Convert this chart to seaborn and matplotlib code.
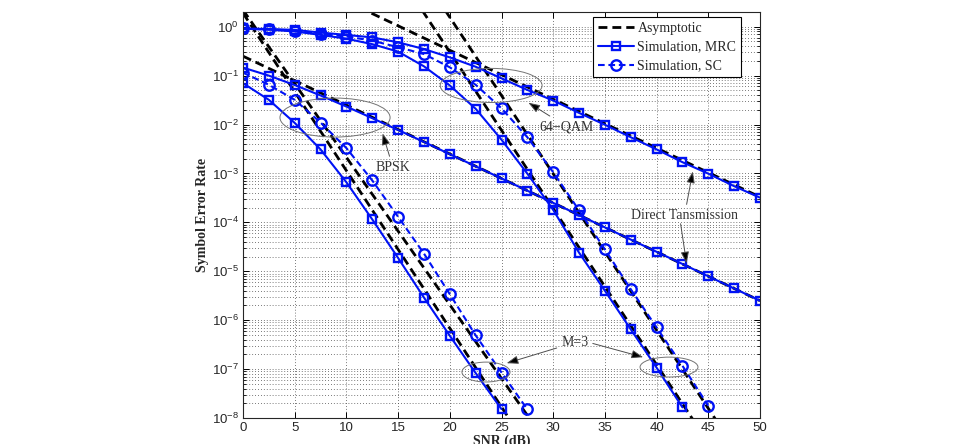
import numpy as np
import pandas as pd
import seaborn as sns
import matplotlib.pyplot as plt
from matplotlib.lines import Line2D
from matplotlib.patches import Ellipse
from matplotlib.ticker import LogLocator, NullFormatter, FixedLocator

# SNR grid of the simulated points (dB)
snr = [0, 2.5, 5, 7.5, 10, 12.5, 15, 17.5, 20, 22.5, 25, 27.5, 30,
       32.5, 35, 37.5, 40, 42.5, 45, 47.5, 50]

# direct transmission (no relays)
bpsk_direct = [0.146, 0.100, 0.0642, 0.0393, 0.0233, 0.0135, 0.00774, 0.00441,
               0.00248, 0.0014, 7.9e-4, 4.44e-4, 2.5e-4, 1.41e-4, 7.9e-5,
               4.45e-5, 2.5e-5, 1.41e-5, 7.9e-6, 4.45e-6, 2.5e-6]
qam_direct = [0.92, 0.90, 0.86, 0.76, 0.68, 0.605, 0.48, 0.35, 0.236, 0.152,
              0.088, 0.051, 0.031, 0.0173, 0.0099, 0.0055, 0.0031, 0.0017,
              0.00099, 0.00055, 0.00032]

# M=3 relays, MRC and SC
bpsk_mrc = [0.070, 0.032, 0.0108, 0.0031, 6.6e-4, 1.15e-4, 1.87e-5, 2.9e-6,
            4.8e-7, 8.3e-8, 1.52e-8]
bpsk_sc = [0.115, 0.065, 0.032, 0.011, 0.0033, 7.2e-4, 1.3e-4, 2.3e-5,
           3.4e-6, 4.9e-7, 8.5e-8, 1.5e-8]
qam_mrc = [0.91, 0.87, 0.80, 0.68, 0.57, 0.44, 0.31, 0.155, 0.063, 0.021,
           0.0049, 9.9e-4, 1.8e-4, 2.4e-5, 4.0e-6, 6.5e-7, 1.07e-7, 1.65e-8]
qam_sc = [0.92, 0.88, 0.83, 0.71, 0.63, 0.52, 0.38, 0.277, 0.148, 0.065,
          0.0215, 0.0055, 0.00106, 1.76e-4, 2.8e-5, 4.3e-6, 7.1e-7, 1.17e-7,
          1.78e-8]

# asymptotic curves (straight lines on the log axis, two end points each)
asym_snr = {'bpsk_direct': [0, 50], 'qam_direct': [10, 50],
            'bpsk_mrc': [0, 26], 'bpsk_sc': [0, 30],
            'qam_mrc': [15, 45], 'qam_sc': [15, 47]}
asym_ser = {'bpsk_direct': [0.25, 2.5e-6], 'qam_direct': [3.3, 3.3e-4],
            'bpsk_mrc': [1.9, 8e-9], 'bpsk_sc': [2.2, 2.0e-9],
            'qam_mrc': [12, 3.1e-9], 'qam_sc': [62, 3.6e-9]}

blue = '#0012f5'
serif = ['Liberation Serif', 'DejaVu Serif']

sns.set_style('ticks')
plt.rcParams['font.family'] = ['Liberation Sans', 'DejaVu Sans']

fig = plt.figure(figsize=(9.68, 4.44), dpi=100)
ax = fig.add_axes([243 / 968, 26 / 444, 517 / 968, 406 / 444])

dash = (0, (3.2, 1.8))
for key in asym_snr:
    sns.lineplot(x=asym_snr[key], y=asym_ser[key], ax=ax, color='k',
                 lw=2.0, linestyle=dash)

solid_kw = dict(color=blue, lw=1.5, marker='s', markersize=6.2,
                markerfacecolor='none', markeredgecolor=blue, markeredgewidth=1.7)
dash_kw = dict(color=blue, lw=1.5, linestyle=dash, marker='o', markersize=7.5,
               markerfacecolor='none', markeredgecolor=blue, markeredgewidth=1.7)

sns.lineplot(x=snr, y=bpsk_direct, ax=ax, **solid_kw)
sns.lineplot(x=snr, y=qam_direct, ax=ax, **solid_kw)
sns.lineplot(x=snr[:len(bpsk_mrc)], y=bpsk_mrc, ax=ax, **solid_kw)
sns.lineplot(x=snr[:len(qam_mrc)], y=qam_mrc, ax=ax, **solid_kw)
sns.lineplot(x=snr[:len(bpsk_sc)], y=bpsk_sc, ax=ax, **dash_kw)
sns.lineplot(x=snr[:len(qam_sc)], y=qam_sc, ax=ax, **dash_kw)

ax.set_yscale('log')
ax.set_xlim(0, 50)
ax.set_ylim(1e-8, 2)
ax.set_xticks(np.arange(0, 51, 5))
ax.yaxis.set_major_locator(FixedLocator([10.0 ** k for k in range(-8, 1)]))
ax.yaxis.set_minor_locator(LogLocator(base=10, subs=np.arange(2, 10), numticks=20))
ax.yaxis.set_minor_formatter(NullFormatter())
ax.tick_params(which='both', direction='in', top=True, right=True,
               labelsize=9.5, pad=3, color='k')
ax.tick_params(which='major', length=4, width=0.7)
ax.tick_params(which='minor', length=2, width=0.6)
grid_ls = (0, (1, 2.5))
ax.grid(True, which='major', ls=grid_ls, color='0.3', lw=0.6)
ax.grid(True, which='minor', axis='y', ls=grid_ls, color='0.3', lw=0.6)
for s in ax.spines.values():
    s.set_color('0.15')
    s.set_linewidth(0.8)

ax.set_xlabel('SNR (dB)', family=serif, fontweight='bold', fontsize=10, labelpad=0)
ax.set_ylabel('Symbol Error Rate', family=serif, fontweight='bold', fontsize=10, labelpad=2)

handles = [Line2D([], [], color='k', lw=2.0, linestyle=dash),
           Line2D([], [], **solid_kw),
           Line2D([], [], **dash_kw)]
leg = ax.legend(handles, ['Asymptotic', 'Simulation, MRC', 'Simulation, SC'],
                loc='upper left', bbox_to_anchor=(0.677, 0.988), borderaxespad=0,
                prop={'family': serif, 'size': 10}, handlelength=2.6,
                fancybox=False, framealpha=1, edgecolor='k', labelspacing=0.42,
                borderpad=0.35, handletextpad=0.25)
leg.get_frame().set_linewidth(0.8)


def ellipse(x, y, w, h):
    xa, ya = ax.transAxes.inverted().transform(ax.transData.transform((x, y)))
    ax.add_patch(Ellipse((xa, ya), w, h, transform=ax.transAxes, fill=False,
                         ec='0.45', lw=0.7, zorder=5))


ellipse(8.9, 0.0139, 0.213, 0.096)
ellipse(24.0, 0.063, 0.197, 0.084)
ellipse(23.5, 8.7e-8, 0.093, 0.049)
ellipse(41.2, 1.1e-7, 0.112, 0.049)

arrow = dict(arrowstyle='-|>,head_length=0.7,head_width=0.25', ec='0.3', fc='k',
             lw=0.7, shrinkA=1, shrinkB=0)
txt = dict(ha='center', va='center', family=serif, fontsize=10, color='0.2', zorder=6)

ax.annotate('BPSK', xy=(13.5, 6.6e-3), xytext=(14.5, 1.33e-3), arrowprops=arrow, **txt)
ax.annotate('64\u2212QAM', xy=(27.6, 0.028), xytext=(31.3, 9.1e-3), arrowprops=arrow, **txt)
ax.annotate('Direct Tansmission', xy=(43.5, 1.1e-3), xytext=(42.7, 1.38e-4),
            arrowprops=arrow, **txt)
ax.annotate('', xy=(42.9, 1.45e-5), xytext=(42.3, 1.0e-4), arrowprops=arrow)
ax.annotate('M=3', xy=(25.5, 1.32e-7), xytext=(32.1, 3.5e-7), arrowprops=arrow, **txt)
ax.annotate('', xy=(38.7, 1.75e-7), xytext=(33.7, 3.4e-7), arrowprops=arrow)

fig.savefig('out.png', dpi=100)
